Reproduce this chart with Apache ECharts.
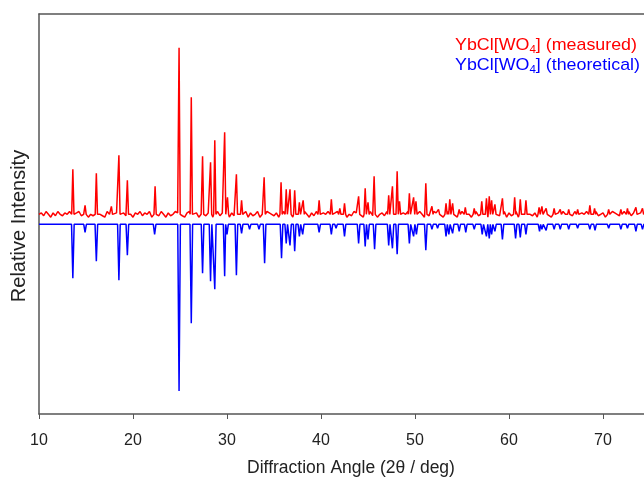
<!DOCTYPE html>
<html>
<head>
<meta charset="utf-8">
<script src="https://cdn.jsdelivr.net/npm/echarts@6/dist/echarts.min.js"></script>
<style>
  html, body { margin: 0; padding: 0; background: #fff; }
  #main { width: 644px; height: 479px; }
</style>
</head>
<body>
<div id="main"></div>
<script>
// peak positions (2θ) and relative heights (strongest = 100)
const measuredPos = [13.6, 14.9, 16.1, 17.7, 18.5, 19.4, 22.35, 24.9, 26.2, 27.4, 28.25, 28.7, 29.75, 30.05, 31.0, 31.55,
  33.95, 35.75, 36.3, 36.7, 37.2, 37.7, 38.1, 39.8, 41.1, 42.0, 42.5, 44.0, 44.7, 45.0, 45.65, 47.2, 47.6, 48.1, 48.35,
  49.4, 49.85, 50.1, 51.15, 51.8, 52.5, 53.3, 53.7, 54.0, 54.7, 55.35, 56.3, 57.1, 57.6, 57.9, 58.15, 58.5, 59.3, 60.6,
  61.2, 61.8, 63.2, 63.5, 63.95, 64.8, 65.45, 66.35, 67.3, 68.6, 69.1, 70.6, 71.9, 72.6, 73.5, 74.2]
const measuredInt = [27, 5.4, 24.6, 4.8, 35.4, 20.4, 16.8, 100, 70.2, 34.8, 31.2, 44.4, 49.2, 10.2, 24, 8.4,
  22.2, 19.2, 15, 15, 14.4, 7.2, 8.4, 8.4, 9, 3.6, 6.6, 10.8, 15.6, 7.2, 22.8, 11.4, 16.8, 25.8, 7.8,
  12.6, 10.2, 7.8, 18.6, 4.8, 3, 6.6, 9, 6.6, 3, 4.2, 3.6, 7.8, 9.6, 10.8, 8.4, 6, 9.6, 10.2,
  9, 8.4, 4.2, 4.8, 3.6, 3.6, 3, 3, 3, 5.4, 3.6, 3, 3, 3.6, 4.2, 3.6]
// background noise of the measured trace, one digit (0-4) every 0.25 deg
const measuredNoise =
  '2314203142132402341230214321042413023142032413240131420312432103421302' +
  '4132024131203142134031240214321302413204231420314213240234123021432104' +
  '2413023142032413240131420312432103421302413202413120314213403124021432' +
  '1302413204231420314213240234123021432104241302314203241324013142031243' +
  '2103421302413202'

const theoPos = [13.6, 14.9, 16.1, 18.5, 19.4, 22.3, 24.9, 26.2, 27.4, 28.25, 28.7, 29.75, 30.0, 31.0, 31.55, 32.4,
  33.4, 34.0, 35.8, 36.3, 36.7, 37.2, 37.7, 38.05, 39.8, 41.1, 41.6, 42.5, 44.0, 44.7, 45.0, 45.7, 47.2, 47.6, 48.1,
  49.4, 49.85, 50.15, 51.15, 51.8, 52.4, 53.3, 53.6, 54.0, 54.7, 55.4, 56.3, 57.15, 57.6, 57.9, 58.15, 58.5, 59.3,
  60.7, 61.2, 61.8, 63.25, 63.5, 63.95, 64.8, 65.45, 66.35, 67.3, 68.6, 69.15, 70.6, 71.9, 72.6, 73.5, 74.2]
const theoInt = [32.4, 4.8, 22.2, 33.6, 18.6, 6, 100, 59.4, 29.4, 34.2, 39, 31.2, 6, 30.6, 5.4, 3,
  3, 23.4, 20.4, 11.4, 12.6, 16.2, 7.2, 6, 4.8, 6, 2.4, 7.2, 11.4, 13.2, 9, 15, 12.6, 14.4, 18,
  11.4, 7.2, 6, 15.6, 3, 2.4, 7.2, 6, 5.4, 4.2, 4.8, 3, 6, 7.2, 8.4, 6, 4.2, 9,
  8.4, 7.8, 6, 4.2, 3, 3.6, 3, 3, 3, 2.4, 3, 3.6, 2.4, 3, 2.4, 4.2, 3]

const xTicks = [10, 20, 30, 40, 50, 60, 70]
const xMax = 74.36
const measuredOffset = 119.8
const theoOffset = 113.8

function buildTrace (pos, ints, offset, sign, noise, hw) {
  const pts = []
  if (noise) {
    for (let i = 0; i < noise.length; i++) {
      const x = 10 + i * 0.25
      if (x > xMax + 0.3) break
      if (pos.some(p => Math.abs(p - x) < hw + 0.02)) continue
      pts.push([x, offset + (Number(noise[i]) - 2) * 0.85])
    }
  } else {
    pts.push([10, offset], [xMax + 0.3, offset])
  }
  pos.forEach((p, i) => {
    pts.push([p - hw, offset], [p, offset + sign * ints[i]], [p + hw, offset])
  })
  pts.sort((a, b) => a[0] - b[0])
  return pts
}

const frameColor = '#555'
const myChart = echarts.init(document.getElementById('main'))
const option = {
  animation: false,
  grid: {
    left: 39,
    top: 14,
    right: 0,
    height: 400
  },
  xAxis: [
    {
      type: 'value',
      min: 10,
      max: xMax,
      interval: 10,
      axisLine: { lineStyle: { color: frameColor, width: 1.5 } },
      axisTick: { length: 5, customValues: xTicks, lineStyle: { color: frameColor, width: 1 } },
      axisLabel: {
        fontSize: 16,
        color: '#222',
        margin: 19,
        fontFamily: 'Liberation Sans',
        customValues: xTicks
      },
      splitLine: { show: false }
    },
    {
      // top edge of the frame
      type: 'value',
      position: 'top',
      min: 10,
      max: xMax,
      axisLine: { lineStyle: { color: frameColor, width: 1.5 } },
      axisTick: { show: false },
      axisLabel: { show: false },
      splitLine: { show: false }
    }
  ],
  yAxis: {
    type: 'value',
    min: 0,
    max: 240,
    axisLine: { show: true, lineStyle: { color: frameColor, width: 1.5 } },
    axisTick: { show: false },
    axisLabel: { show: false },
    splitLine: { show: false }
  },
  graphic: [
    {
      type: 'text',
      x: 351,
      y: 468,
      style: {
        text: 'Diffraction Angle (2θ / deg)',
        fill: '#222',
        fontSize: 17.5,
        fontFamily: 'Liberation Sans',
        align: 'center',
        verticalAlign: 'middle'
      }
    },
    {
      type: 'text',
      x: 19,
      y: 226,
      rotation: Math.PI / 2,
      style: {
        text: 'Relative Intensity',
        fill: '#222',
        fontSize: 20,
        fontFamily: 'Liberation Sans',
        align: 'center',
        verticalAlign: 'middle'
      }
    },
    {
      type: 'text',
      x: 455,
      y: 45,
      scaleX: 1.05,
      style: {
        text: 'YbCl[WO{s|4}] (measured)',
        fill: '#ff0000',
        fontSize: 17,
        fontFamily: 'Liberation Sans',
        verticalAlign: 'middle',
        rich: { s: { fontSize: 11, fill: '#ff0000', padding: [9, 0, 0, 0] } }
      }
    },
    {
      type: 'text',
      x: 455,
      y: 65,
      scaleX: 1.05,
      style: {
        text: 'YbCl[WO{s|4}] (theoretical)',
        fill: '#0000ff',
        fontSize: 17,
        fontFamily: 'Liberation Sans',
        verticalAlign: 'middle',
        rich: { s: { fontSize: 11, fill: '#0000ff', padding: [9, 0, 0, 0] } }
      }
    }
  ],
  series: [
    {
      name: 'measured',
      type: 'line',
      data: buildTrace(measuredPos, measuredInt, measuredOffset, 1, measuredNoise, 0.12),
      showSymbol: false,
      clip: true,
      lineStyle: { color: '#ff0000', width: 1.5 },
      z: 3
    },
    {
      name: 'theoretical',
      type: 'line',
      data: buildTrace(theoPos, theoInt, theoOffset, -1, null, 0.14),
      showSymbol: false,
      clip: true,
      lineStyle: { color: '#0000ff', width: 1.5 },
      z: 2
    }
  ]
}
myChart.setOption(option)
</script>
</body>
</html>
